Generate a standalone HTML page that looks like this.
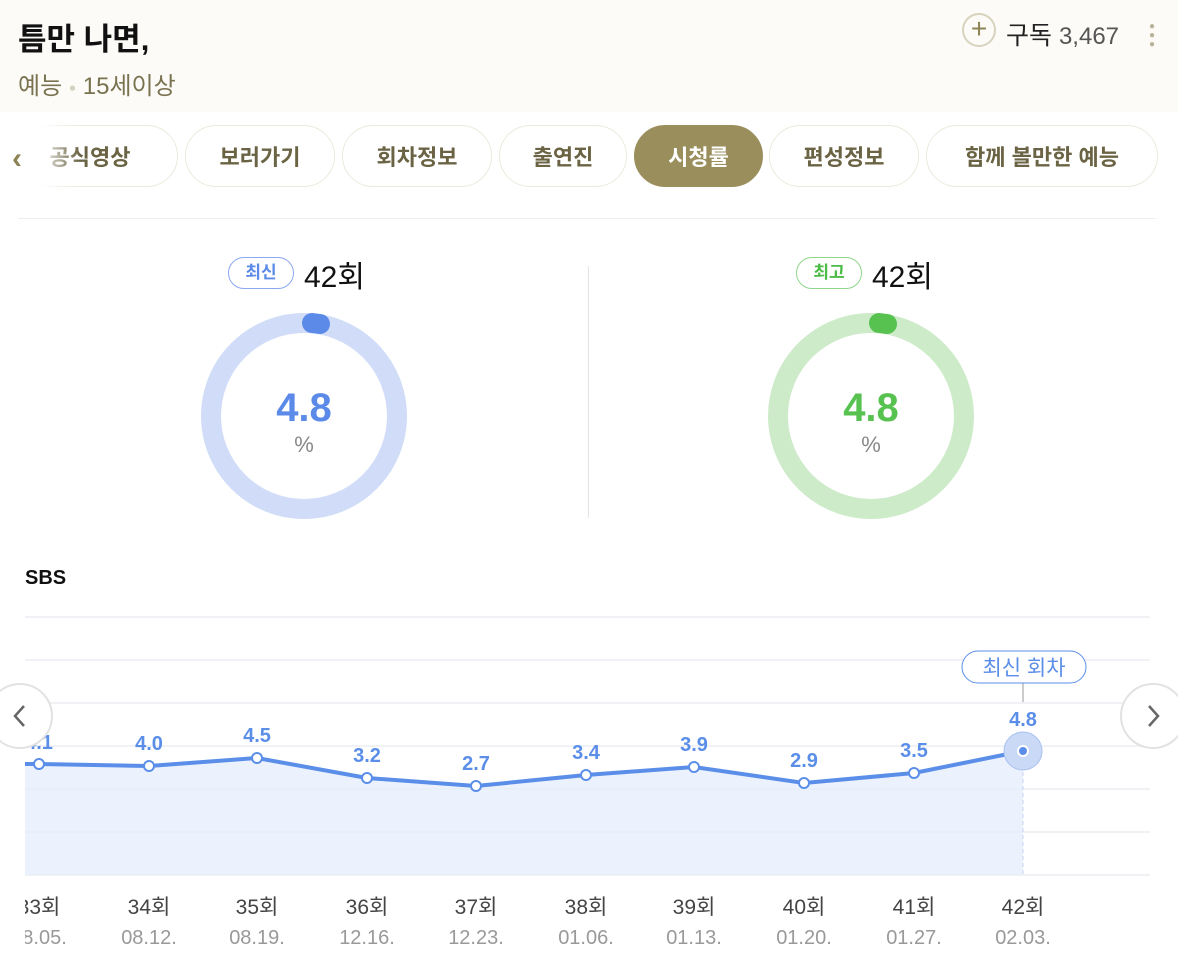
<!DOCTYPE html><html><head><meta charset="utf-8"><style>
body{margin:0;width:1178px;height:961px;background:#fff;position:relative;overflow:hidden;font-family:"Liberation Sans","Noto Sans CJK KR",sans-serif}
.a{position:absolute}
.tab{position:absolute;top:125px;height:60px;border:1px solid #ece9dc;border-radius:31px;background:#fff;color:#6b6444;font-size:22px;font-weight:bold;line-height:64px;text-align:center}
</style></head><body>
<div class="a" style="left:0;top:0;width:1178px;height:112px;background:#fcfbf8"></div>
<div class="a" style="left:18px;top:14px;font-size:31px;font-weight:bold;color:#111">틈만 나면,</div>
<div class="a" style="left:18px;top:66px;font-size:24px;color:#7a7350">예능 <span style="color:#d5d1c0;font-size:12px;vertical-align:middle">●</span> 15세이상</div>
<div class="a" style="left:962px;top:13px;width:34px;height:34px;border:2px solid #d8d3bd;border-radius:50%;box-sizing:border-box;text-align:center;line-height:28px;font-size:28px;color:#8c8455">+</div>
<div class="a" style="left:1006px;top:16px;font-size:25px;color:#222">구독 <span style="color:#555;font-size:24px">3,467</span></div>
<div class="a" style="left:1149px;top:22px;font-size:10px;line-height:9px;color:#b8b29a">●<br>●<br>●</div>
<div class="tab" style="left:22px;width:154px;text-indent:-20px">공식영상</div>
<div class="a" style="left:0;top:120px;width:80px;height:70px;background:linear-gradient(90deg,#fff 45%,rgba(255,255,255,0))"></div>
<div class="a" style="left:12px;top:142px;font-size:30px;color:#8c8455;font-weight:bold">‹</div>
<div class="tab" style="left:185px;width:148px">보러가기</div>
<div class="tab" style="left:342px;width:148px">회차정보</div>
<div class="tab" style="left:499px;width:126px">출연진</div>
<div class="tab" style="left:634px;width:127px;background:#9a8f5c;border-color:#9a8f5c;color:#fff">시청률</div>
<div class="tab" style="left:769px;width:148px">편성정보</div>
<div class="tab" style="left:926px;width:230px">함께 볼만한 예능</div>
<div class="a" style="left:18px;top:218px;width:1138px;height:1px;background:#f1efea"></div>
<div class="a" style="left:588px;top:266px;width:1px;height:252px;background:#e4e4e4"></div>
<div class="a" style="left:228px;top:257px;width:64px;height:30px;border:1px solid #8aa8f0;border-radius:16px;color:#5b8ae8;font-size:17px;font-weight:bold;text-align:center;line-height:30px">최신</div>
<div class="a" style="left:304px;top:252px;font-size:30px;color:#111">42회</div>
<div class="a" style="left:796px;top:257px;width:64px;height:30px;border:1px solid #8fd68a;border-radius:16px;color:#4cbc46;font-size:17px;font-weight:bold;text-align:center;line-height:30px">최고</div>
<div class="a" style="left:872px;top:252px;font-size:30px;color:#111">42회</div>
<svg class="a" style="left:0;top:0" width="1178" height="961">
<circle cx="304" cy="416" r="93" fill="none" stroke="#d1ddf8" stroke-width="20"/>
<line x1="312" y1="323" x2="320" y2="324" stroke="#5b8ae8" stroke-width="20" stroke-linecap="round"/>
<circle cx="871" cy="416" r="93" fill="none" stroke="#cdebc9" stroke-width="20"/>
<line x1="879" y1="323" x2="887" y2="324" stroke="#57c24f" stroke-width="20" stroke-linecap="round"/>
<text x="304" y="421" text-anchor="middle" font-size="40" font-weight="bold" fill="#5b8ae8" font-family="Liberation Sans">4.8</text>
<text x="304" y="452" text-anchor="middle" font-size="22" fill="#888">%</text>
<text x="871" y="421" text-anchor="middle" font-size="40" font-weight="bold" fill="#57c24f" font-family="Liberation Sans">4.8</text>
<text x="871" y="452" text-anchor="middle" font-size="22" fill="#888">%</text>
<text x="25" y="584" font-size="20" font-weight="bold" fill="#111">SBS</text>
<g stroke="#f0f2f5" stroke-width="2">
<line x1="25" y1="617" x2="1150" y2="617"/><line x1="25" y1="660" x2="1150" y2="660"/><line x1="25" y1="703" x2="1150" y2="703"/><line x1="25" y1="746" x2="1150" y2="746"/><line x1="25" y1="789" x2="1150" y2="789"/><line x1="25" y1="832" x2="1150" y2="832"/><line x1="25" y1="875" x2="1150" y2="875"/></g>
<polygon points="25,764 39,764 149,766 257,758 367,778 476,786 586,775 694,767 804,783 914,773 1023,751 1023,875 25,875" fill="#e4edfc" opacity="0.75"/>
<line x1="1023" y1="751" x2="1023" y2="875" stroke="#c5d4f3" stroke-dasharray="4,3"/>
<polyline points="25,764 39,764 149,766 257,758 367,778 476,786 586,775 694,767 804,783 914,773 1023,751" fill="none" stroke="#5b8ee8" stroke-width="4"/>
<g fill="#fff" stroke="#5b8ee8" stroke-width="2"><circle cx="39" cy="764" r="5"/><circle cx="149" cy="766" r="5"/><circle cx="257" cy="758" r="5"/><circle cx="367" cy="778" r="5"/><circle cx="476" cy="786" r="5"/><circle cx="586" cy="775" r="5"/><circle cx="694" cy="767" r="5"/><circle cx="804" cy="783" r="5"/><circle cx="914" cy="773" r="5"/></g>
<circle cx="1023" cy="751" r="19" fill="#c9d9f6" stroke="#a9c1f0" stroke-width="1"/>
<circle cx="1023" cy="751" r="5" fill="#5b8ee8" stroke="#fff" stroke-width="2"/>
<g font-size="20" font-weight="bold" fill="#5b8ee8" text-anchor="middle" font-family="Liberation Sans">
<text x="39" y="749">4.1</text><text x="149" y="750">4.0</text><text x="257" y="742">4.5</text><text x="367" y="762">3.2</text><text x="476" y="770">2.7</text><text x="586" y="759">3.4</text><text x="694" y="751">3.9</text><text x="804" y="767">2.9</text><text x="914" y="757">3.5</text><text x="1023" y="726">4.8</text></g>
<line x1="1023" y1="682" x2="1023" y2="702" stroke="#999"/>
<rect x="962" y="651" width="124" height="32" rx="16" fill="#fff" stroke="#5b8ee8"/>
<text x="1024" y="675" text-anchor="middle" font-size="21" fill="#5b8ee8">최신 회차</text>
<g font-size="21" fill="#444" text-anchor="middle"><text x="39" y="914">33회</text><text x="149" y="914">34회</text><text x="257" y="914">35회</text><text x="367" y="914">36회</text><text x="476" y="914">37회</text><text x="586" y="914">38회</text><text x="694" y="914">39회</text><text x="804" y="914">40회</text><text x="914" y="914">41회</text><text x="1023" y="914">42회</text></g>
<g font-size="20" fill="#999" text-anchor="middle" font-family="Liberation Sans"><text x="39" y="944">08.05.</text><text x="149" y="944">08.12.</text><text x="257" y="944">08.19.</text><text x="367" y="944">12.16.</text><text x="476" y="944">12.23.</text><text x="586" y="944">01.06.</text><text x="694" y="944">01.13.</text><text x="804" y="944">01.20.</text><text x="914" y="944">01.27.</text><text x="1023" y="944">02.03.</text></g>
<rect x="0" y="600" width="25" height="361" fill="#fff"/>
<circle cx="20" cy="716" r="32" fill="#fff" stroke="#e2e2e2" stroke-width="2"/>
<polyline points="24,706 15,716 24,726" fill="none" stroke="#666" stroke-width="2.5"/>
<circle cx="1153" cy="716" r="32" fill="#fff" stroke="#e2e2e2" stroke-width="2"/>
<polyline points="1149,706 1158,716 1149,726" fill="none" stroke="#666" stroke-width="2.5"/>
</svg>
</body></html>
